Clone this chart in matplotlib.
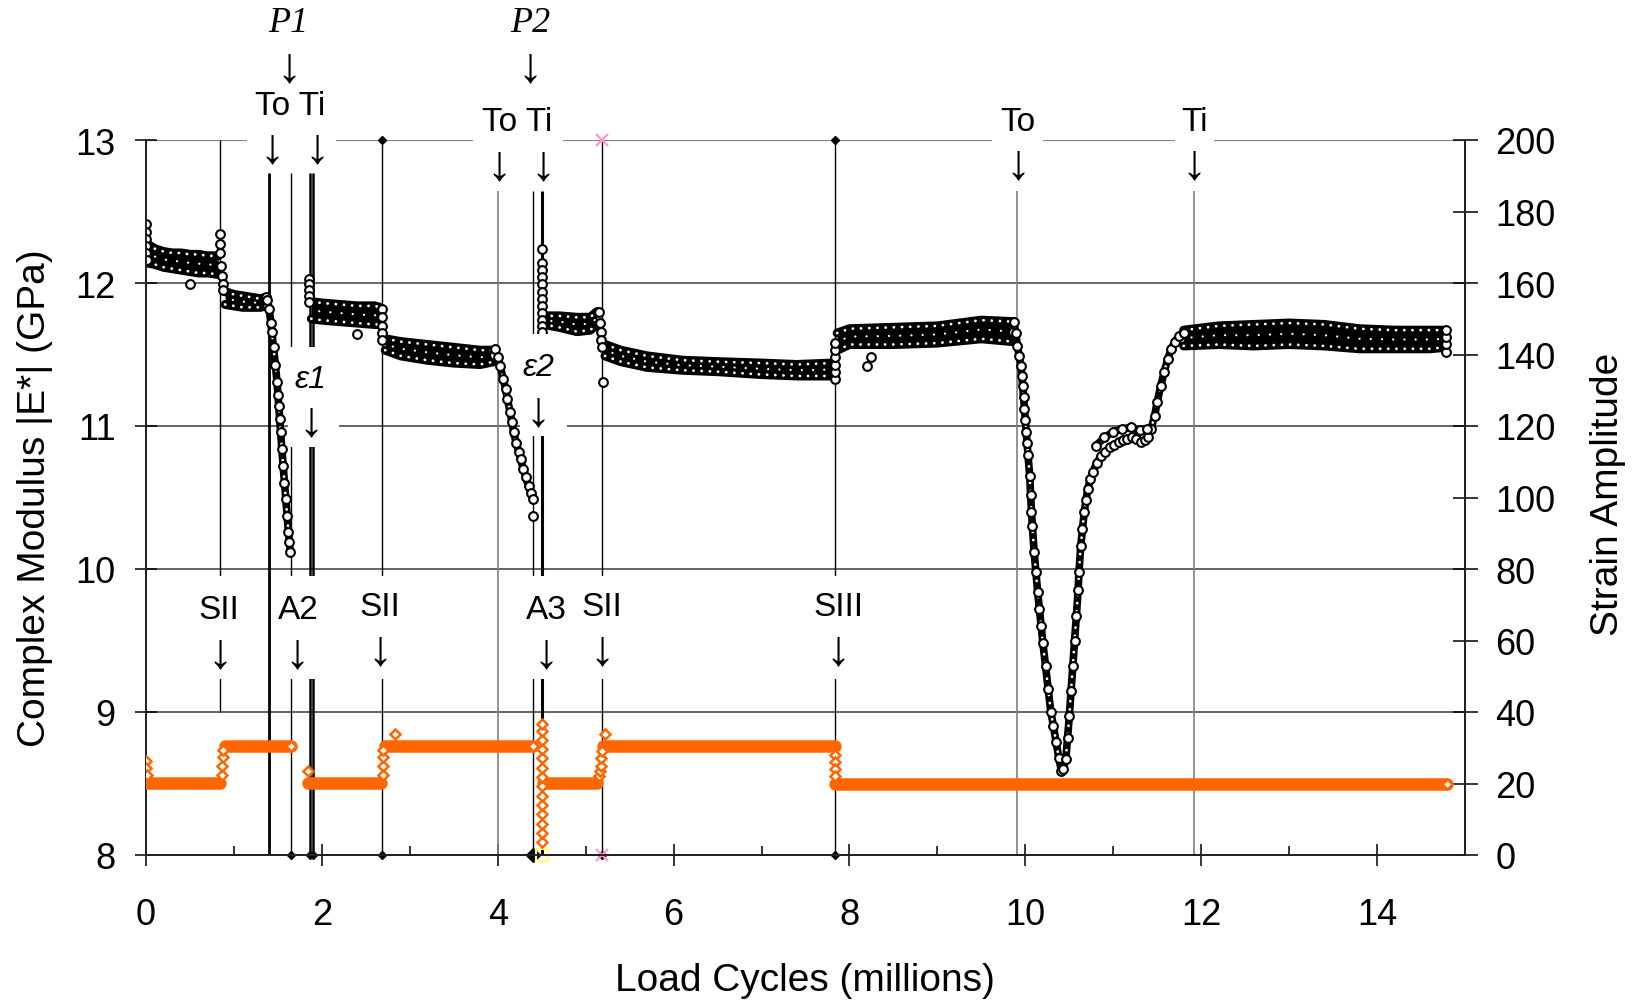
import numpy as np
import matplotlib
matplotlib.use('Agg')
import matplotlib.pyplot as plt
from matplotlib.patches import Rectangle

plt.rcParams['font.family'] = ['Liberation Sans', 'DejaVu Sans']

# ---------- Modulus |E*| (GPa): noisy plateaus as upper / lower band edges ----------
band_x = [[0.02, 0.1, 0.2, 0.3, 0.4, 0.5, 0.6, 0.7, 0.82],
          [0.9, 1.0, 1.1, 1.2, 1.3, 1.37],
          [1.88, 2.0, 2.2, 2.4, 2.6, 2.66],
          [2.72, 2.9, 3.2, 3.5, 3.8, 3.96],
          [4.52, 4.7, 4.9, 5.05, 5.13],
          [5.22, 5.4, 5.7, 6.1, 6.5, 7.0, 7.4, 7.8],
          [7.86, 8.0, 8.5, 9.0, 9.5, 9.86],
          [11.8, 12.2, 12.6, 13.0, 13.4, 13.8, 14.2, 14.6, 14.77]]
band_hi = [[12.27, 12.24, 12.22, 12.21, 12.21, 12.20, 12.20, 12.19, 12.19],
           [11.94, 11.92, 11.91, 11.90, 11.89, 11.90],
           [11.87, 11.86, 11.85, 11.84, 11.84, 11.83],
           [11.61, 11.59, 11.57, 11.55, 11.53, 11.53],
           [11.77, 11.77, 11.76, 11.76, 11.80],
           [11.57, 11.53, 11.49, 11.46, 11.45, 11.44, 11.43, 11.44],
           [11.65, 11.68, 11.69, 11.70, 11.74, 11.73],
           [11.67, 11.70, 11.71, 11.72, 11.71, 11.68, 11.67, 11.67, 11.67]]
band_lo = [[12.14, 12.13, 12.11, 12.10, 12.09, 12.08, 12.07, 12.07, 12.06],
           [11.85, 11.84, 11.83, 11.83, 11.83, 11.84],
           [11.75, 11.74, 11.73, 11.72, 11.71, 11.71],
           [11.53, 11.49, 11.46, 11.44, 11.43, 11.45],
           [11.71, 11.69, 11.66, 11.67, 11.71],
           [11.49, 11.45, 11.41, 11.39, 11.38, 11.36, 11.35, 11.35],
           [11.53, 11.57, 11.57, 11.58, 11.61, 11.59],
           [11.56, 11.57, 11.56, 11.57, 11.56, 11.54, 11.54, 11.54, 11.55]]

# drop before e1 (P1)
drop1_x = [1.37, 1.38, 1.40, 1.42, 1.43, 1.45, 1.47, 1.49, 1.50, 1.51, 1.52, 1.53, 1.545,
           1.56, 1.575, 1.59, 1.605, 1.62, 1.63, 1.64]
drop1_y = [11.90, 11.88, 11.82, 11.72, 11.66, 11.55, 11.43, 11.31, 11.22, 11.14, 11.05,
           10.96, 10.84, 10.72, 10.60, 10.49, 10.37, 10.26, 10.19, 10.12]
# drop before e2 (P2)
drop2_x = [3.96, 3.97, 4.00, 4.03, 4.06, 4.09, 4.11, 4.14, 4.16, 4.18, 4.21, 4.24, 4.26,
           4.29, 4.32, 4.35, 4.38, 4.40]
drop2_y = [11.50, 11.54, 11.48, 11.42, 11.33, 11.26, 11.19, 11.10, 11.03, 10.96, 10.88,
           10.82, 10.77, 10.70, 10.64, 10.58, 10.53, 10.49]
# deep dip between To and Ti
dip_x = [9.86, 9.87, 9.89, 9.91, 9.93, 9.95, 9.96, 9.97, 9.98, 9.99, 10.00, 10.01, 10.02,
         10.03, 10.05, 10.06, 10.07, 10.08, 10.10, 10.12, 10.14, 10.16, 10.18, 10.20, 10.23,
         10.26, 10.29, 10.32, 10.35, 10.38, 10.41, 10.43, 10.46, 10.48, 10.50, 10.52,
         10.54, 10.56, 10.58, 10.60, 10.61, 10.63, 10.65, 10.67, 10.69, 10.71, 10.74,
         10.77, 10.81, 10.86, 10.91, 10.96, 11.01, 11.06, 11.11, 11.16, 11.21, 11.26,
         11.32, 11.36, 11.39, 11.43, 11.47, 11.50, 11.54, 11.58, 11.62, 11.66, 11.70,
         11.75, 11.80]
dip_y = [11.66, 11.73, 11.65, 11.56, 11.49, 11.42, 11.35, 11.28, 11.20, 11.12, 11.04, 10.96,
         10.88, 10.80, 10.65, 10.52, 10.40, 10.30, 10.12, 9.98, 9.84, 9.72, 9.60, 9.48, 9.32,
         9.16, 9.00, 8.90, 8.79, 8.68, 8.59, 8.60, 8.67, 8.82, 8.97, 9.15,
         9.32, 9.50, 9.67, 9.85, 9.98, 10.16, 10.28, 10.40, 10.48, 10.56, 10.63,
         10.68, 10.74, 10.79, 10.82, 10.85, 10.87, 10.89, 10.90, 10.91, 10.92, 10.91,
         10.89, 10.90, 10.92, 10.98, 11.07, 11.17, 11.28, 11.38, 11.47, 11.54, 11.59,
         11.63, 11.65]
# upper edge of the shoulder after the dip
shoulder_x = [10.80, 10.90, 11.00, 11.10, 11.20, 11.30, 11.38]
shoulder_y = [10.86, 10.92, 10.96, 10.98, 10.99, 10.97, 10.98]

# other single readings: start, steps, columns and outliers
mod_x = [0, 0, 0, 0, 0, 0.01, 0.5,
         0.84, 0.84, 0.84, 0.85, 0.86, 0.87, 0.88,
         1.85, 1.85, 1.85, 1.85, 1.85, 2.40,
         2.68, 2.68, 2.68, 2.68, 2.68, 4.40,
         4.50, 4.50, 4.50, 4.50, 4.50, 4.50, 4.50, 4.50, 4.50, 4.50, 4.50, 4.50,
         5.15, 5.16, 5.17, 5.18, 5.19, 5.20,
         7.83, 7.83, 7.83, 7.83, 7.83, 7.83, 8.20, 8.25,
         14.78, 14.78, 14.78, 14.78]
mod_y = [12.41, 12.36, 12.31, 12.26, 12.21, 12.16, 11.99,
         12.34, 12.27, 12.21, 12.12, 12.05, 11.99, 11.95,
         12.03, 11.99, 11.95, 11.91, 11.87, 11.64,
         11.82, 11.76, 11.70, 11.65, 11.60, 10.37,
         12.24, 12.14, 12.09, 12.04, 11.99, 11.94, 11.89, 11.84, 11.79, 11.74, 11.70, 11.66,
         11.80, 11.72, 11.66, 11.60, 11.55, 11.31,
         11.33, 11.38, 11.43, 11.48, 11.53, 11.58, 11.42, 11.48,
         11.52, 11.57, 11.62, 11.67]

# ---------- Strain amplitude (right axis) ----------
strain_seg_start = [0.0, 0.90, 1.84, 2.72, 4.52, 5.20, 7.84]
strain_seg_end = [0.84, 1.65, 2.67, 4.40, 5.13, 7.83, 14.79]
strain_level = [20.2, 30.6, 20.2, 30.6, 20.2, 30.6, 20.0]
strain_pt_x = [0, 0, 0.01, 0.86, 0.86, 0.87, 0.88, 1.65, 1.84,
               2.69, 2.69, 2.70, 2.70, 2.83,
               4.40, 4.50, 4.50, 4.50, 4.50, 4.50, 4.50, 4.50, 4.50, 4.50, 4.50, 4.50, 4.50,
               4.50, 4.50, 5.15, 5.16, 5.17, 5.18, 5.19, 5.22,
               7.83, 7.83, 7.83, 7.83, 14.79]
strain_pt_y = [26.3, 24.2, 22.4, 22.5, 25.0, 27.5, 29.5, 30.6, 23.5,
               22.5, 25.0, 27.5, 29.5, 33.8,
               30.6, 3.6, 6.2, 8.8, 11.4, 14.0, 16.6, 19.2, 21.8, 24.4, 27.0, 29.6, 32.2,
               34.8, 36.6, 22.0, 23.5, 25.0, 27.0, 29.0, 33.8,
               28.0, 26.0, 24.0, 22.0, 20.0]

# ---------- Event lines (x in millions, GPa range) ----------
event_x = [0.84, 1.40, 1.65, 1.87, 1.90, 2.68, 4.00, 4.40, 4.50, 5.19, 7.83, 9.91, 11.92]
event_top = [13.0, 12.77, 12.77, 12.77, 12.77, 13.0, 12.64, 12.64, 12.64, 13.0, 13.0, 12.64, 12.64]
event_bottom = [9.0, 8, 8, 8, 8, 8, 8, 8, 8, 8, 8, 8, 8]
event_lw = [1.0, 2.0, 1.0, 1.8, 1.8, 1.0, 1.2, 1.0, 2.2, 1.0, 1.0, 1.2, 1.2]
event_col = ['black', 'black', 'black', 'black', 'black', 'black', '#808080',
             'black', 'black', 'black', 'black', '#808080', '#808080']
dot_x = [1.65, 1.87, 1.90, 2.68, 5.19, 7.83, 2.68, 7.83]
dot_y = [8, 8, 8, 8, 8, 8, 13, 13]

xticks = [0, 2, 4, 6, 8, 10, 12, 14]
yticks_left = [8, 9, 10, 11, 12, 13]
yticks_right = [0, 20, 40, 60, 80, 100, 120, 140, 160, 180, 200]

ORANGE = '#FF6600'

# ---------- Figure ----------
fig = plt.figure(figsize=(16.4, 10.03), dpi=100)
ax = fig.add_axes([146 / 1640, 147 / 1003, 1319 / 1640, 715 / 1003])
ax2 = ax.twinx()

ax.set_xlim(0, 15)
ax.set_ylim(8, 13)
ax2.set_ylim(0, 200)

for a in (ax, ax2):
    a.spines['top'].set_visible(False)
    for s in ('left', 'right', 'bottom'):
        a.spines[s].set_linewidth(1.4)
        a.spines[s].set_color('#222222')

ax.set_xticks(xticks)
ax.set_xticks(range(1, 16, 2), minor=True)
ax.set_yticks(yticks_left)
ax2.set_yticks(yticks_right)
ax.tick_params(axis='x', which='major', direction='inout', length=16.5, width=1.1,
               labelsize=26, pad=22)
ax.tick_params(axis='x', which='minor', direction='in', length=6.5, width=1.1)
ax.tick_params(axis='y', direction='inout', length=16, width=1.1, labelsize=26, pad=14)
ax2.tick_params(axis='y', direction='inout', length=18, width=1.1, labelsize=26, pad=13)

ax.yaxis.grid(True, color='#3a3a3a', lw=1.1)
ax.get_ygridlines()[-1].set_color('#888888')
ax.get_ygridlines()[-1].set_linewidth(1.6)
ax.set_axisbelow(True)

# event lines + markers
ax.vlines(event_x, event_bottom, event_top, colors=event_col, linewidths=event_lw, zorder=2)
ax.plot(dot_x, dot_y, 'D', color='black', ms=4, clip_on=False, zorder=6)
ax.plot([4.40], [8], 'D', color='black', ms=7, clip_on=False, zorder=6)
ax.plot([4.50], [8], 's', mfc='none', mec='#FFFF88', mew=1.6, ms=8.5, clip_on=False, zorder=6)
ax.plot([5.19, 5.19], [8, 13], 'x', color='#FF99CC', ms=8, mew=1.6, clip_on=False, zorder=7)


def chain(xs, ys, lw=6.5):
    # overlapping open circles: black stroke with white dots along it
    ax.plot(xs, ys, color='black', lw=lw, solid_capstyle='round', solid_joinstyle='round', zorder=3)
    ax.plot(xs, ys, color='white', lw=2.0, ls=(0, (0.05, 2.9)), dash_capstyle='round', zorder=4)


# modulus bands
for xs, hi, lo in zip(band_x, band_hi, band_lo):
    ax.fill_between(xs, lo, hi, color='black', lw=0, zorder=3)
    mid = [(h + l) / 2 for h, l in zip(hi, lo)]
    chain(xs, hi)
    chain(xs, lo)
    ax.plot(xs, mid, color='white', lw=1.6, ls=(1.5, (0.05, 5.0)),
            dash_capstyle='round', zorder=4)

for xs, ys in [(drop1_x, drop1_y), (drop2_x, drop2_y), (dip_x, dip_y), (shoulder_x, shoulder_y)]:
    chain(xs, ys, lw=5.5)
    ax.plot(xs, ys, 'o', ms=6.3, mfc='white', mec='black', mew=1.5, zorder=5)

ax.plot(mod_x, mod_y, 'o', ms=6.3, mfc='white', mec='black', mew=1.5, zorder=5)

# strain amplitude
for x0, x1, lv in zip(strain_seg_start, strain_seg_end, strain_level):
    ax2.plot([x0, x1], [lv, lv], color=ORANGE, lw=9, solid_capstyle='round', zorder=3)
ax2.plot(strain_pt_x, strain_pt_y, 'D', ms=5, mfc='white', mec=ORANGE, mew=1.8, zorder=4)

# ---------- Annotations (white text boxes cover lines behind them) ----------
boxes = [(1.15, 2.16, 12.78, 13.39), (3.72, 4.74, 12.65, 13.32), (9.62, 10.20, 12.65, 13.32),
         (11.70, 12.15, 12.65, 13.32), (1.61, 2.19, 10.85, 11.55), (4.25, 4.79, 10.93, 11.64),
         (0.50, 1.18, 9.23, 9.95), (1.43, 2.09, 9.23, 9.95), (2.38, 2.95, 9.23, 9.95),
         (4.26, 4.85, 9.23, 9.95), (4.92, 5.45, 9.23, 9.95), (7.50, 8.24, 9.23, 9.95)]
for x0, x1, y0, y1 in boxes:
    ax2.add_patch(Rectangle((x0, y0), x1 - x0, y1 - y0, transform=ax.transData,
                            fc='white', ec='none', zorder=8, clip_on=False))

labels = [('To Ti', 1.64, 13.24), ('To Ti', 4.22, 13.13), ('To', 9.92, 13.13), ('Ti', 11.92, 13.13),
          ('SII', 0.83, 9.72), ('A2', 1.73, 9.72), ('SII', 2.66, 9.74), ('A3', 4.55, 9.72),
          ('SII', 5.18, 9.74), ('SIII', 7.87, 9.74)]
for s, x, y in labels:
    ax2.text(x, y, s, transform=ax.transData, ha='center', va='center', fontsize=24,
             zorder=10, clip_on=False)

arrows = [(1.62, 13.51), (1.43, 12.94), (1.94, 12.94), (4.37, 13.51), (4.01, 12.82), (4.51, 12.82),
          (9.92, 12.83), (11.92, 12.83), (1.87, 11.03), (4.46, 11.10),
          (0.84, 9.41), (1.72, 9.41), (2.66, 9.43), (4.55, 9.41), (5.18, 9.43), (7.87, 9.43)]
for x, y in arrows:
    ax2.text(x, y, '\u2193', transform=ax.transData, ha='center', va='center', fontsize=36,
             zorder=10, clip_on=False)

for s, x, y in [('\u03b51', 1.87, 11.33), ('\u03b52', 4.46, 11.41)]:
    ax2.text(x, y, s, transform=ax.transData, ha='center', va='center', fontsize=23,
             style='italic', zorder=10, clip_on=False)

for s, x in [('P1', 1.62), ('P2', 4.37)]:
    ax2.text(x, 13.82, s, transform=ax.transData, ha='center', va='center', fontsize=26,
             family=['Liberation Serif', 'DejaVu Serif'], style='italic', zorder=10, clip_on=False)

# ---------- Axis titles ----------
fig.text(0.491, 0.022, 'Load Cycles (millions)', ha='center', va='center', fontsize=28)
fig.text(35 / 1640, 0.503, 'Complex Modulus |E*| (GPa)', ha='center', va='center',
         rotation=90, fontsize=28)
fig.text(1608 / 1640, 0.507, 'Strain Amplitude', ha='center', va='center',
         rotation=90, fontsize=28)

fig.savefig('out.png', dpi=100)
